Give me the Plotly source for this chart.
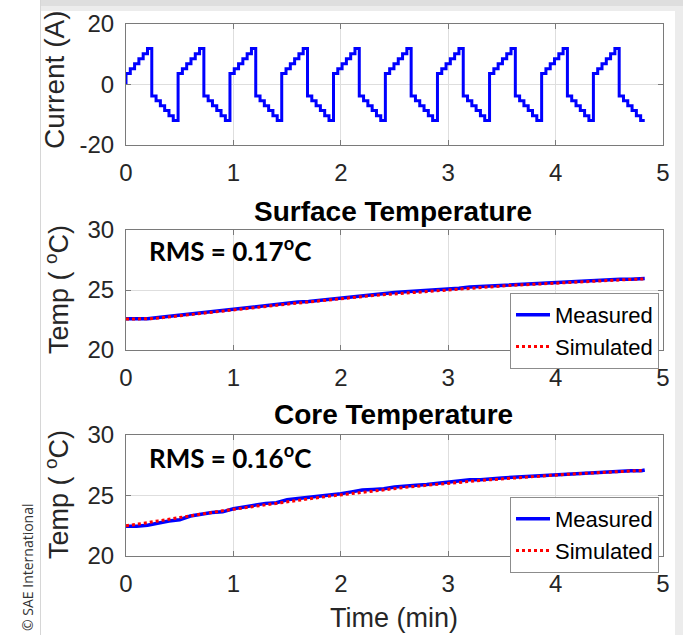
import plotly.graph_objects as go

W, H = 683, 635

# ---------------- data ----------------
# Current: repeated charge/discharge pulse profile (one cycle of step levels)
cycle_starts = [0.0, 0.485, 0.968, 1.450, 1.932, 2.415, 2.900, 3.385, 3.870, 4.352]
step_offsets = [0.00, 0.04, 0.08, 0.12, 0.16, 0.20, 0.24, 0.28, 0.32, 0.36, 0.40, 0.44]
step_levels = [3.6, 5.2, 6.9, 8.5, 10.2, 11.9, -3.8, -5.4, -7.0, -8.6, -10.3, -11.9]
t_end = 4.83

# Temperature time base (min)
t_temp = [0.0, 0.1, 0.2, 0.3, 0.4, 0.5, 0.6, 0.7, 0.8, 0.9,
          1.0, 1.1, 1.2, 1.3, 1.4, 1.5, 1.6, 1.7, 1.8, 1.9,
          2.0, 2.1, 2.2, 2.3, 2.4, 2.5, 2.6, 2.7, 2.8, 2.9,
          3.0, 3.1, 3.2, 3.3, 3.4, 3.5, 3.6, 3.7, 3.8, 3.9,
          4.0, 4.1, 4.2, 4.3, 4.4, 4.5, 4.6, 4.7, 4.8, 4.83]

surf_measured = [22.60, 22.60, 22.60, 22.70, 22.80, 22.95, 23.05, 23.10, 23.20, 23.30,
                 23.40, 23.50, 23.60, 23.70, 23.80, 23.90, 24.00, 24.05, 24.15, 24.25,
                 24.35, 24.45, 24.55, 24.65, 24.70, 24.80, 24.85, 24.90, 24.95, 25.00,
                 25.10, 25.15, 25.25, 25.30, 25.35, 25.40, 25.45, 25.50, 25.55, 25.60,
                 25.65, 25.70, 25.75, 25.80, 25.85, 25.85, 25.90, 25.90, 25.95, 25.95]
surf_simulated = [22.58, 22.58, 22.60, 22.66, 22.76, 22.88, 22.98, 23.05, 23.13, 23.22,
                  23.32, 23.42, 23.52, 23.62, 23.72, 23.82, 23.91, 23.99, 24.08, 24.17,
                  24.26, 24.36, 24.45, 24.54, 24.61, 24.69, 24.76, 24.82, 24.88, 24.94,
                  25.01, 25.08, 25.15, 25.22, 25.28, 25.33, 25.39, 25.44, 25.49, 25.54,
                  25.59, 25.64, 25.69, 25.74, 25.78, 25.81, 25.85, 25.88, 25.91, 25.93]

core_measured = [22.45, 22.45, 22.55, 22.75, 22.90, 23.00, 23.30, 23.45, 23.60, 23.65,
                 23.90, 24.05, 24.20, 24.35, 24.40, 24.65, 24.75, 24.85, 24.90, 25.00,
                 25.15, 25.30, 25.45, 25.50, 25.55, 25.70, 25.80, 25.85, 25.90, 26.00,
                 26.10, 26.20, 26.30, 26.30, 26.40, 26.45, 26.50, 26.55, 26.60, 26.70,
                 26.75, 26.80, 26.85, 26.90, 26.95, 27.00, 27.00, 27.05, 27.05, 27.10]
core_simulated = [22.50, 22.60, 22.75, 22.90, 23.05, 23.20, 23.35, 23.50, 23.62, 23.74,
                  23.86, 23.99, 24.12, 24.25, 24.37, 24.50, 24.62, 24.73, 24.84, 24.95,
                  25.06, 25.17, 25.28, 25.38, 25.48, 25.58, 25.67, 25.76, 25.85, 25.93,
                  26.01, 26.09, 26.17, 26.24, 26.31, 26.38, 26.45, 26.51, 26.57, 26.63,
                  26.69, 26.75, 26.80, 26.85, 26.90, 26.95, 26.99, 27.03, 27.06, 27.08]

x_ticks = [0, 1, 2, 3, 4, 5]
cur_ticks = [-20, 0, 20]
cur_ticktext = ["-20", "0", "20"]
temp_ticks = [20, 25, 30]

# Build the staircase current trace from the cycle profile
t_cur, i_cur = [0.0], [0.0]
for start in cycle_starts:
    for off, lvl in zip(step_offsets, step_levels):
        t = start + off
        if t < t_end:
            t_cur.append(round(t, 3))
            i_cur.append(lvl)
t_cur.append(t_end)
i_cur.append(i_cur[-1])

# ---------------- styling helpers ----------------
TXT = "#262626"
AX = "#7a7a7a"
GRID = "#dedede"
FONT = "Liberation Sans, Arial, sans-serif"


def px_x(p):
    return p / W


def px_y(p):
    return 1 - p / H


x_dom = [px_x(126), px_x(663)]
panels = [(24, 145), (230, 350), (435, 556)]


def axis_common():
    return dict(
        showline=True, linecolor=AX, linewidth=1, mirror="ticks",
        ticks="inside", ticklen=5, tickcolor=AX, tickwidth=1,
        showgrid=True, gridcolor=GRID, gridwidth=1, zeroline=False,
        tickfont=dict(family=FONT, size=24, color=TXT),
        automargin=False, fixedrange=True,
    )


fig = go.Figure()

fig.add_trace(go.Scatter(
    x=t_cur, y=i_cur, mode="lines", line=dict(color="#0000ff", width=3, shape="hv"),
    showlegend=False, xaxis="x", yaxis="y",
))

fig.add_trace(go.Scatter(
    x=t_temp, y=surf_measured, mode="lines", name="Measured",
    line=dict(color="#0000ff", width=3.5), legend="legend", xaxis="x2", yaxis="y2",
))
fig.add_trace(go.Scatter(
    x=t_temp, y=surf_simulated, mode="lines", name="Simulated",
    line=dict(color="#ff0000", width=3, dash="dot"), legend="legend", xaxis="x2", yaxis="y2",
))
fig.add_trace(go.Scatter(
    x=t_temp, y=core_measured, mode="lines", name="Measured",
    line=dict(color="#0000ff", width=3.5), legend="legend2", xaxis="x3", yaxis="y3",
))
fig.add_trace(go.Scatter(
    x=t_temp, y=core_simulated, mode="lines", name="Simulated",
    line=dict(color="#ff0000", width=3, dash="dot"), legend="legend2", xaxis="x3", yaxis="y3",
))

layout = dict(
    width=W, height=H, margin=dict(l=0, r=0, t=0, b=0),
    paper_bgcolor="white", plot_bgcolor="white",
    font=dict(family=FONT, color=TXT),
)

for k, (top, bot) in enumerate(panels, start=1):
    sx = "" if k == 1 else str(k)
    xa = axis_common()
    xa.update(domain=x_dom, range=[0, 5], tickvals=x_ticks, anchor="y" + sx,
              ticklabelstandoff=6)
    ya = axis_common()
    ya.update(domain=[px_y(bot), px_y(top)], anchor="x" + sx, ticklabelstandoff=6)
    if k == 1:
        ya.update(range=[-20, 20], tickvals=cur_ticks, ticktext=cur_ticktext)
    else:
        ya.update(range=[20, 30], tickvals=temp_ticks)
    layout["xaxis" + sx] = xa
    layout["yaxis" + sx] = ya

legend_style = dict(
    bgcolor="white", bordercolor="#8c8c8c", borderwidth=1,
    font=dict(family=FONT, size=22, color="#000000"),
    xanchor="left", yanchor="top", tracegroupgap=0, itemwidth=34,
)
layout["legend"] = dict(legend_style, x=px_x(510), y=px_y(293))
layout["legend2"] = dict(legend_style, x=px_x(510), y=px_y(497))

fig.update_layout(**layout)

# Titles, axis labels and RMS notes
ann = []
ann.append(dict(text="<b>Surface Temperature</b>", x=px_x(393), y=px_y(211),
                font=dict(family=FONT, size=28, color="#000000")))
ann.append(dict(text="<b>Core Temperature</b>", x=px_x(393), y=px_y(415),
                font=dict(family=FONT, size=28, color="#000000")))
ann.append(dict(text="Time (min)", x=px_x(394), y=px_y(618),
                font=dict(family=FONT, size=27, color=TXT)))
ann.append(dict(text="Current (A)", x=px_x(54), y=px_y(80), textangle=-90,
                font=dict(family=FONT, size=28, color=TXT)))
for yc in (290, 495):
    ann.append(dict(text="Temp ( <sup>o</sup>C)", x=px_x(57), y=px_y(yc), textangle=-90,
                    font=dict(family=FONT, size=27, color=TXT)))
ann.append(dict(text="<b>RMS = 0.17<sup>o</sup>C</b>", x=px_x(147), y=px_y(250),
                xanchor="left", font=dict(family="Lato, sans-serif", size=26, color="#000000")))
ann.append(dict(text="<b>RMS = 0.16<sup>o</sup>C</b>", x=px_x(147), y=px_y(456),
                xanchor="left", font=dict(family="Lato, sans-serif", size=26, color="#000000")))
ann.append(dict(text="© SAE International", x=px_x(27), y=px_y(567), textangle=-90,
                font=dict(family="Open Sans, sans-serif", size=14, color="#333333")))
for a in ann:
    a.setdefault("xanchor", "center")
    a.update(xref="paper", yref="paper", yanchor="middle", showarrow=False)
fig.update_layout(annotations=ann)

# Page frame: shaded top and right edges and the panel's left edge
fig.update_layout(shapes=[
    dict(type="rect", xref="paper", yref="paper", x0=px_x(40), x1=1, y0=px_y(0), y1=px_y(6),
         fillcolor="#dedede", line=dict(width=0), layer="below"),
    dict(type="rect", xref="paper", yref="paper", x0=px_x(40), x1=1, y0=px_y(6), y1=px_y(11),
         fillcolor="#ececec", line=dict(width=0), layer="below"),
    dict(type="rect", xref="paper", yref="paper", x0=px_x(675), x1=1, y0=0, y1=px_y(11),
         fillcolor="#ececec", line=dict(width=0), layer="below"),
    dict(type="line", xref="paper", yref="paper", x0=px_x(40.5), x1=px_x(40.5), y0=0, y1=px_y(0),
         line=dict(color="#d6d6d6", width=1), layer="below"),
])

fig.write_html("out.html")
